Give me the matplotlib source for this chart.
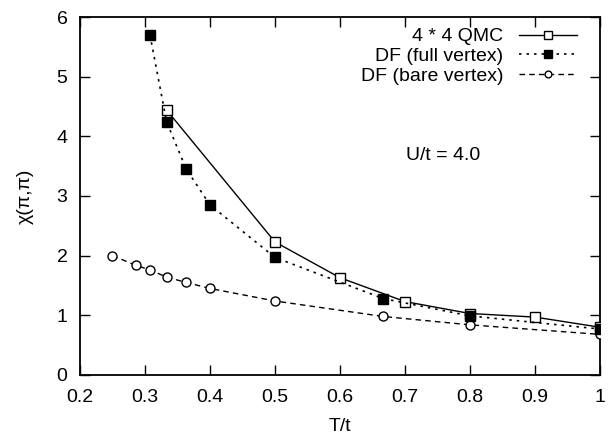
import numpy as np
import matplotlib.pyplot as plt

plt.rcParams['font.family'] = ['Liberation Sans', 'DejaVu Sans']

# 4x4 QMC
t_qmc = [1/3, 0.5, 0.6, 0.7, 0.8, 0.9, 1.0]
chi_qmc = [4.44, 2.23, 1.63, 1.23, 1.03, 0.97, 0.80]

# DF full vertex
t_full = [0.3077, 1/3, 0.3636, 0.4, 0.5, 0.6667, 0.8, 1.0]
chi_full = [5.70, 4.24, 3.45, 2.85, 1.97, 1.28, 0.99, 0.77]

# DF bare vertex
t_bare = [0.25, 0.2857, 0.3077, 1/3, 0.3636, 0.4, 0.5, 0.6667, 0.8, 1.0]
chi_bare = [2.00, 1.84, 1.76, 1.64, 1.55, 1.45, 1.24, 0.98, 0.84, 0.68]

fig = plt.figure(figsize=(6.15, 4.36), dpi=100)
ax = fig.add_axes([0.130, 0.140, 0.8456, 0.821])

ax.plot(t_qmc, chi_qmc, color='black', linestyle='-', linewidth=1,
        marker='s', markersize=7, markerfacecolor='white', markeredgecolor='black',
        markeredgewidth=1, label='4 * 4 QMC', zorder=3)
ax.plot(t_full, chi_full, color='black', linestyle=(0, (1.5, 3)), linewidth=1.2,
        marker='s', markersize=7, markerfacecolor='black', markeredgecolor='black',
        label='DF (full vertex)', zorder=4)
ax.plot(t_bare, chi_bare, color='black', linestyle=(0, (4, 3)), linewidth=1,
        marker='o', markersize=6.5, markerfacecolor='white', markeredgecolor='black',
        markeredgewidth=1, label='DF (bare vertex)', zorder=3)

ax.set_xlim(0.2, 1.0)
ax.set_ylim(0, 6)
ax.set_xticks([0.2, 0.3, 0.4, 0.5, 0.6, 0.7, 0.8, 0.9, 1.0])
ax.set_xticklabels(['0.2', '0.3', '0.4', '0.5', '0.6', '0.7', '0.8', '0.9', '1'])
ax.set_yticks([0, 1, 2, 3, 4, 5, 6])
ax.tick_params(direction='in', top=True, right=True, length=7, width=1,
               labelsize=14)
ax.tick_params(axis='x', pad=10)
ax.tick_params(axis='y', pad=9)
for s in ax.spines.values():
    s.set_linewidth(1.3)

ax.set_xlabel('T/t', fontsize=14, labelpad=9)
ax.set_ylabel('χ(π,π)', fontsize=14, labelpad=16)

ax.text(0.758, 3.68, 'U/t = 4.0', fontsize=14, ha='center', va='center')

ax.legend(loc='upper right', frameon=False, markerfirst=False, fontsize=14,
          handlelength=3, handletextpad=0.8, labelspacing=0.12, markerscale=0.75,
          borderpad=0, borderaxespad=0, bbox_to_anchor=(0.956, 0.97))

fig.savefig('out.png', dpi=100)
